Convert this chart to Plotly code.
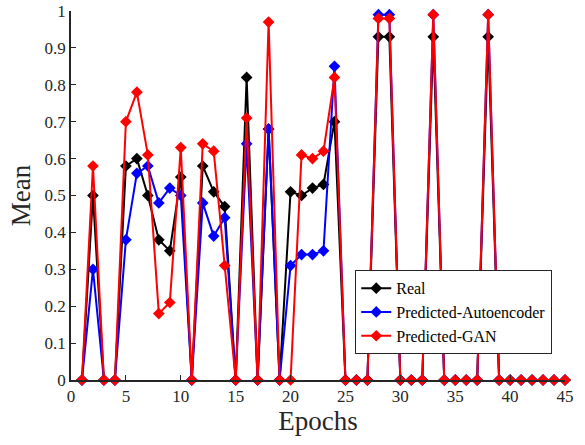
import plotly.graph_objects as go

epochs = list(range(1, 46))
real = [0, 0.50, 0, 0, 0.58, 0.60, 0.50, 0.38, 0.35, 0.55,
        0, 0.58, 0.51, 0.47, 0, 0.82, 0, 0.68, 0, 0.51,
        0.50, 0.52, 0.53, 0.70, 0, 0, 0, 0.93, 0.93, 0,
        0, 0, 0.93, 0, 0, 0, 0, 0.93, 0, 0,
        0, 0, 0, 0, 0]
autoenc = [0, 0.30, 0, 0, 0.38, 0.56, 0.58, 0.48, 0.52, 0.50,
           0, 0.48, 0.39, 0.44, 0, 0.64, 0, 0.68, 0, 0.31,
           0.34, 0.34, 0.35, 0.85, 0, 0, 0, 0.99, 0.99, 0,
           0, 0, 0.99, 0, 0, 0, 0, 0.99, 0, 0,
           0, 0, 0, 0, 0]
gan = [0, 0.58, 0, 0, 0.70, 0.78, 0.61, 0.18, 0.21, 0.63,
       0, 0.64, 0.62, 0.31, 0, 0.71, 0, 0.97, 0, 0,
       0.61, 0.60, 0.62, 0.82, 0, 0, 0, 0.98, 0.98, 0,
       0, 0, 0.99, 0, 0, 0, 0, 0.99, 0, 0,
       0, 0, 0, 0, 0]

series = [("Real", real, "black"),
          ("Predicted-Autoencoder", autoenc, "blue"),
          ("Predicted-GAN", gan, "red")]

fig = go.Figure()
for name, vals, col in series:
    fig.add_trace(go.Scatter(x=epochs, y=vals, name=name, mode="lines+markers",
                             line=dict(color=col, width=2),
                             marker=dict(symbol="diamond", size=9, color=col),
                             cliponaxis=False))

font = "Liberation Serif"
tickfont = dict(family=font, size=17, color="#262626")
fig.update_layout(
    width=585, height=445,
    margin=dict(l=71, r=20, t=11, b=65, autoexpand=False),
    plot_bgcolor="white", paper_bgcolor="white",
    font=dict(family=font, size=16, color="#262626"),
    showlegend=True,
    legend=dict(x=0.575, y=0.298, xanchor="left", yanchor="top",
                bordercolor="#262626", borderwidth=1.2, bgcolor="white",
                font=dict(family=font, size=16, color="#000"),
                tracegroupgap=0, itemwidth=30),
)
fig.update_xaxes(range=[0, 45], dtick=5, tick0=0, showgrid=False, zeroline=False,
                 showline=True, linecolor="#262626", linewidth=1.5, automargin=False,
                 ticks="inside", ticklen=5, tickcolor="#262626", tickfont=tickfont,
                 title=dict(text="Epochs", font=dict(family=font, size=27, color="#262626"), standoff=6))
fig.update_yaxes(range=[0, 1], dtick=0.1, tick0=0, showgrid=False, zeroline=False,
                 showline=True, linecolor="#262626", linewidth=1.5, automargin=False,
                 ticks="inside", ticklen=5, tickcolor="#262626", tickfont=tickfont,
                 title=dict(text="Mean", font=dict(family=font, size=27, color="#262626"), standoff=6))
fig.write_html("out.html", config={"displayModeBar": False},
               post_script="document.body.style.margin='0';document.body.style.overflow='hidden';")
